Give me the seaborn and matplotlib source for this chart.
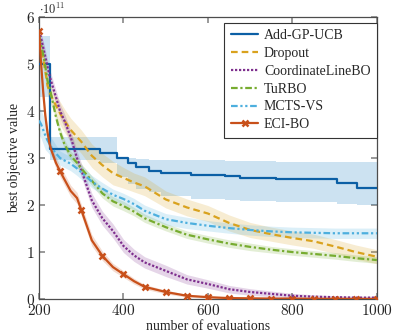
import matplotlib
matplotlib.use("Agg")
import matplotlib.pyplot as plt
import numpy as np
import pandas as pd
import seaborn as sns
from matplotlib.ticker import FuncFormatter

# evaluation grid shared by the smooth curves
evals = [200, 205, 210, 215, 220, 225, 230, 240, 250, 260, 275, 290, 300, 325, 350,
         375, 400, 425, 450, 500, 550, 600, 650, 700, 750, 800, 850, 900, 950, 1000]

# values in units of 1e11
dropout = [5.5, 5.3, 5.1, 4.85, 4.55, 4.4, 4.3, 4.12, 3.95, 3.8, 3.6, 3.45, 3.35, 3.05, 2.85,
           2.68, 2.58, 2.48, 2.4, 2.12, 1.95, 1.82, 1.62, 1.47, 1.38, 1.3, 1.23, 1.12, 1.0, 0.9]
dropout_sd = [0.2, 0.2, 0.2, 0.2, 0.2, 0.2, 0.2, 0.22, 0.25, 0.25, 0.25, 0.25, 0.25, 0.25, 0.25,
              0.25, 0.22, 0.2, 0.2, 0.18, 0.18, 0.17, 0.17, 0.16, 0.15, 0.15, 0.15, 0.15, 0.15, 0.15]

coordline = [5.7, 5.55, 5.35, 5.15, 4.95, 4.75, 4.6, 4.3, 4.0, 3.8, 3.45, 3.0, 2.75, 2.1, 1.72,
             1.45, 1.13, 0.93, 0.78, 0.6, 0.42, 0.32, 0.21, 0.15, 0.11, 0.07, 0.05, 0.04, 0.03, 0.03]
coordline_sd = [0.1, 0.12, 0.15, 0.15, 0.15, 0.15, 0.15, 0.15, 0.15, 0.15, 0.15, 0.15, 0.15, 0.15, 0.15,
                0.15, 0.14, 0.13, 0.12, 0.12, 0.1, 0.09, 0.08, 0.07, 0.06, 0.05, 0.04, 0.03, 0.03, 0.03]

turbo = [5.6, 5.4, 5.2, 4.95, 4.65, 4.5, 4.3, 3.88, 3.55, 3.3, 3.05, 2.9, 2.78, 2.52, 2.25,
         2.08, 1.98, 1.86, 1.72, 1.53, 1.37, 1.27, 1.18, 1.11, 1.05, 1.0, 0.96, 0.92, 0.87, 0.83]
turbo_sd = [0.1, 0.1, 0.1, 0.1, 0.1, 0.1, 0.1, 0.1, 0.1, 0.1, 0.1, 0.1, 0.1, 0.1, 0.1,
            0.1, 0.1, 0.09, 0.09, 0.08, 0.08, 0.08, 0.08, 0.08, 0.07, 0.07, 0.07, 0.07, 0.07, 0.07]

mctsvs = [3.8, 3.72, 3.6, 3.48, 3.38, 3.3, 3.22, 3.1, 3.0, 2.95, 2.88, 2.78, 2.7, 2.5, 2.35,
          2.22, 2.13, 2.02, 1.88, 1.7, 1.62, 1.56, 1.51, 1.47, 1.44, 1.42, 1.41, 1.4, 1.4, 1.4]
mctsvs_sd = [0.3, 0.3, 0.3, 0.3, 0.25, 0.22, 0.2, 0.18, 0.15, 0.15, 0.15, 0.15, 0.15, 0.13, 0.13,
             0.12, 0.12, 0.12, 0.12, 0.12, 0.12, 0.11, 0.11, 0.11, 0.11, 0.11, 0.11, 0.11, 0.11, 0.11]

ecibo = [5.7, 5.0, 4.4, 3.9, 3.55, 3.3, 3.15, 2.9, 2.72, 2.55, 2.3, 2.15, 1.9, 1.25, 0.92,
         0.68, 0.53, 0.38, 0.26, 0.15, 0.07, 0.04, 0.02, 0.015, 0.01, 0.01, 0.005, 0.005, 0.003, 0.002]
ecibo_sd = [0.08, 0.08, 0.1, 0.1, 0.1, 0.1, 0.1, 0.12, 0.12, 0.12, 0.12, 0.12, 0.12, 0.12, 0.1,
            0.08, 0.07, 0.06, 0.05, 0.04, 0.03, 0.02, 0.02, 0.02, 0.02, 0.02, 0.02, 0.02, 0.02, 0.02]

# Add-GP-UCB is a step curve
addgp_x = [200, 226, 345, 385, 410, 430, 460, 490, 560, 640, 676, 760, 905, 953, 1000]
addgp = [5.0, 3.2, 3.1, 3.0, 2.9, 2.8, 2.72, 2.68, 2.65, 2.62, 2.57, 2.55, 2.47, 2.36, 2.36]
addgp_hi = [5.6, 3.45, 3.45, 3.0, 3.0, 2.98, 2.96, 2.95, 2.95, 2.93, 2.93, 2.92, 2.92, 2.91, 2.91]
addgp_lo = [4.3, 2.95, 2.9, 2.6, 2.45, 2.35, 2.28, 2.2, 2.12, 2.1, 2.08, 2.06, 2.03, 2.0, 2.0]

yticks = [0, 1, 2, 3, 4, 5, 6]
xticks = [200, 400, 600, 800, 1000]

sns.set_theme(style="white")
plt.rcParams["font.family"] = ["Liberation Serif", "DejaVu Serif"]
plt.rcParams["mathtext.fontset"] = "cm"

fig = plt.figure(figsize=(3.98, 3.36), dpi=100)
ax = fig.add_axes([0.098, 0.110, 0.849, 0.839])

# Add-GP-UCB
ax.fill_between(addgp_x, addgp_lo, addgp_hi, step="post", color="#0072BD", alpha=0.2, lw=0)
sns.lineplot(x=addgp_x, y=addgp, ax=ax, color="#0B5FA5", lw=1.6, drawstyle="steps-post",
             label="Add-GP-UCB", zorder=3)

series = [
    ("Dropout", dropout, dropout_sd, "#D9A21E", (0, (3, 1.8)), None),
    ("CoordinateLineBO", coordline, coordline_sd, "#7E2F8E", (0, (1, 0.8)), None),
    ("TuRBO", turbo, turbo_sd, "#77AC30", (0, (3, 1.2, 1, 1.2)), None),
    ("MCTS-VS", mctsvs, mctsvs_sd, "#4DAFDE", (0, (3, 1.2, 1, 1.2, 1, 1.2)), None),
    ("ECI-BO", ecibo, ecibo_sd, "#C8501A", "-", "x"),
]

mark_idx = [i for i, e in enumerate(evals) if e % 50 == 0]
for name, mean, sd, col, ls, mk in series:
    m = np.array(mean)
    s = np.array(sd)
    ax.fill_between(evals, m - s, m + s, color=col, alpha=0.2, lw=0)
    kw = {}
    if mk:
        kw = dict(marker=mk, markevery=mark_idx, markersize=5, markeredgewidth=1.8,
                  markeredgecolor=col, markerfacecolor=col)
    sns.lineplot(x=evals, y=mean, ax=ax, color=col, lw=1.6, linestyle=ls, label=name,
                 zorder=4, **kw)

ax.set_xlim(200, 1000)
ax.set_ylim(0, 6)
ax.set_xticks(xticks)
ax.set_yticks(yticks)
ax.xaxis.set_major_formatter(FuncFormatter(lambda v, p: f"${int(v)}$"))
ax.yaxis.set_major_formatter(FuncFormatter(lambda v, p: f"${int(v)}$"))
ax.tick_params(direction="in", length=4, color="0.55", labelsize=11, top=True, right=True,
               bottom=True, left=True, pad=3)
for sp in ax.spines.values():
    sp.set_color("0.3")
    sp.set_linewidth(0.9)

ax.set_xlabel("number of evaluations", fontsize=10, labelpad=1.5)
ax.set_ylabel("best objective value", fontsize=10, labelpad=3)
ax.text(0.0, 1.0, r"$\cdot 10^{11}$", transform=ax.transAxes, fontsize=9,
        ha="left", va="bottom")

leg = ax.legend(loc="upper right", bbox_to_anchor=(1.0, 0.98), fontsize=10, frameon=True,
                fancybox=False, edgecolor="0.2", framealpha=1, borderaxespad=0,
                handlelength=2.0, handletextpad=0.4, labelspacing=0.35, borderpad=0.45)
leg.get_frame().set_linewidth(0.8)

fig.savefig("out.png", dpi=100)
